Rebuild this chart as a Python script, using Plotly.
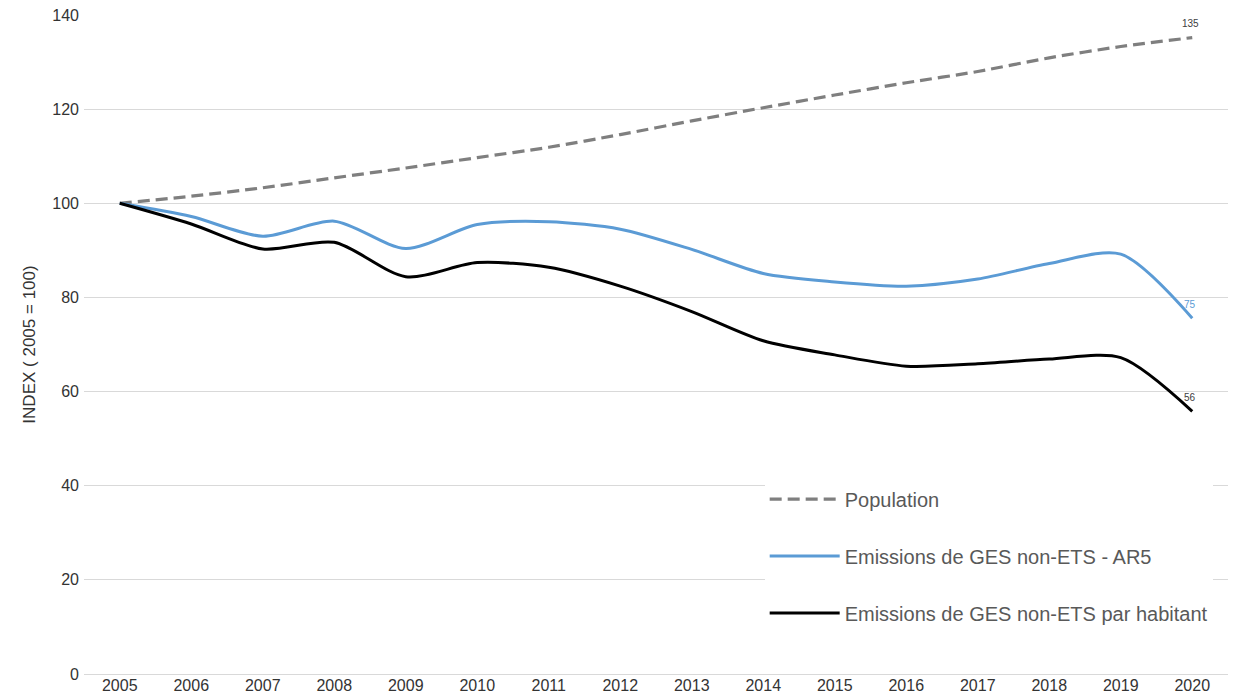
import plotly.graph_objects as go

years = ["2005","2006","2007","2008","2009","2010","2011","2012","2013","2014","2015","2016","2017","2018","2019","2020"]
population = [100, 101.5, 103.3, 105.4, 107.5, 109.7, 111.9, 114.6, 117.5, 120.3, 123.0, 125.6, 128.0, 130.9, 133.3, 135.2]
emissions = [100, 97.2, 93.0, 96.2, 90.4, 95.5, 96.1, 94.5, 90.2, 85.1, 83.3, 82.4, 83.9, 87.2, 89.2, 75.6]
per_capita = [100, 95.6, 90.3, 91.7, 84.4, 87.4, 86.4, 82.4, 77.0, 70.8, 67.8, 65.4, 65.9, 66.9, 67.2, 55.8]
end_labels = ["135", "75", "56"]
y_ticks = [0, 20, 40, 60, 80, 100, 120, 140]

names = ["Population", "Emissions de GES non-ETS - AR5", "Emissions de GES non-ETS par habitant"]
colors = ["#7f7f7f", "#5b9bd5", "#000000"]
label_colors = ["#404040", "#5b9bd5", "#404040"]
dashes = ["12px,6px", "solid", "solid"]
series = [population, emissions, per_capita]

fig = go.Figure()
for i, (vals, name) in enumerate(zip(series, names)):
    fig.add_trace(go.Scatter(
        x=years, y=vals, name=name, mode="lines",
        line=dict(color=colors[i], width=3.2 if i == 0 else 3, dash=dashes[i],
                  shape="spline", smoothing=0.8),
        legendgroup=f"g{i}",
    ))
    fig.add_annotation(x=len(years) - 1, y=vals[-1], xref="x", yref="y",
                       text=end_labels[i], showarrow=False,
                       xshift=-2, yshift=14,
                       font=dict(family="Liberation Sans", size=10, color=label_colors[i]))

fig.update_layout(
    width=1233, height=699,
    margin=dict(l=84, r=5, t=15, b=25),
    plot_bgcolor="white", paper_bgcolor="white",
    showlegend=True,
    legend=dict(
        x=0.595, y=0.295, xanchor="left", yanchor="top",
        bgcolor="white",
        font=dict(family="Liberation Sans Narrow, Liberation Sans", size=20, color="#595959"),
        itemwidth=70,
        tracegroupgap=28,
        traceorder="grouped",
    ),
    xaxis=dict(
        type="category", range=[-0.5, 15.5],
        showgrid=False, showline=False, ticks="",
        tickfont=dict(family="Liberation Sans Narrow, Liberation Sans", size=16, color="#333333"),
    ),
    yaxis=dict(
        range=[0, 140], tickvals=y_ticks, showgrid=True, gridcolor="#d9d9d9", gridwidth=1,
        zeroline=True, zerolinecolor="#d9d9d9", zerolinewidth=1,
        tickfont=dict(family="Liberation Sans Narrow, Liberation Sans", size=16, color="#333333"),
        title=dict(text="INDEX ( 2005 = 100)", standoff=12,
                   font=dict(family="Liberation Sans Narrow, Liberation Sans", size=17, color="#333333")),
        ticklabelstandoff=4,
    ),
)

fig.write_html("out.html", config={"displayModeBar": False},
               post_script="document.body.style.margin='0';document.body.style.overflow='hidden';")
